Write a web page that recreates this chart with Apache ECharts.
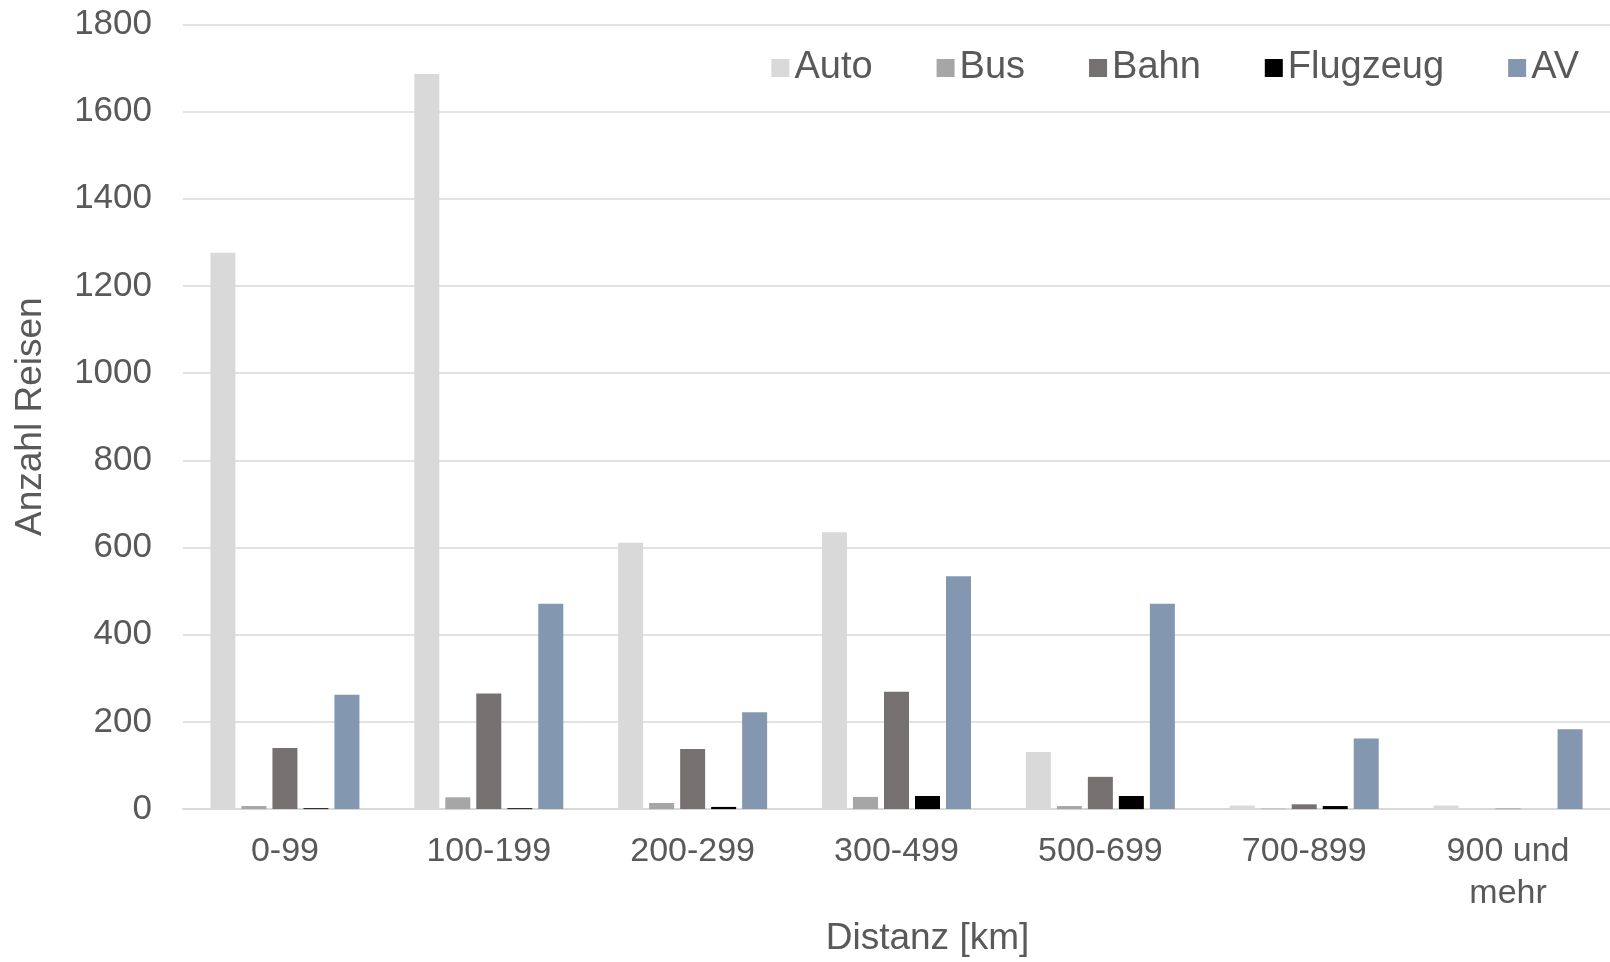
<!DOCTYPE html>
<html>
<head>
<meta charset="utf-8">
<script src="https://cdn.jsdelivr.net/npm/echarts@6/dist/echarts.min.js"></script>
<style>html,body{margin:0;padding:0;background:#fff;}#chart{width:1610px;height:962px;}</style>
</head>
<body>
<div id="chart"></div>
<script>
const categories = ["0-99", "100-199", "200-299", "300-499", "500-699", "700-899", "900 und\nmehr"];
const seriesNames = ["Auto", "Bus", "Bahn", "Flugzeug", "AV"];
const auto = [1276, 1686, 611, 635, 131, 8, 8];
const bus = [7, 27, 14, 28, 7, 1, 0];
const bahn = [140, 265, 138, 269, 74, 11, 1];
const flugzeug = [2, 2, 5, 30, 30, 7, 0];
const av = [262, 471, 222, 534, 471, 162, 183];
const yTicks = [0, 200, 400, 600, 800, 1000, 1200, 1400, 1600, 1800];
const colors = ["#d9d9d9", "#a6a6a6", "#767171", "#000000", "#8497b0"];

const values = [auto, bus, bahn, flugzeug, av];
const font = "Liberation Sans, Arial, sans-serif";
const chart = echarts.init(document.getElementById('chart'));
chart.setOption({
  animation: false,
  backgroundColor: '#ffffff',
  color: colors,
  grid: { left: 183, right: 0, top: 24.3, bottom: 148.5, containLabel: false },
  legend: {
    data: seriesNames,
    right: 26, top: 44,
    itemWidth: 18, itemHeight: 18, itemGap: 64,
    icon: 'rect',
    textStyle: { color: '#595959', fontSize: 38, fontFamily: font }
  },
  xAxis: {
    type: 'category',
    data: categories,
    axisLine: { lineStyle: { color: '#d9d9d9', width: 2 } },
    axisTick: { show: false },
    axisLabel: { color: '#595959', fontSize: 34, fontFamily: font, margin: 22, lineHeight: 42, interval: 0 },
    name: 'Distanz [km]',
    nameLocation: 'middle',
    nameGap: 108,
    nameTextStyle: { color: '#595959', fontSize: 37, fontFamily: font, padding: [0, 0, 0, 62] }
  },
  yAxis: {
    type: 'value',
    min: yTicks[0], max: yTicks[yTicks.length - 1], interval: yTicks[1] - yTicks[0],
    axisLine: { show: false },
    axisTick: { show: false },
    splitLine: { lineStyle: { color: '#d9d9d9', width: 1.5 } },
    axisLabel: { color: '#595959', fontSize: 35, fontFamily: font, margin: 31, formatter: v => String(v) },
    name: 'Anzahl Reisen',
    nameLocation: 'middle',
    nameGap: 134,
    nameTextStyle: { color: '#595959', fontSize: 37, fontFamily: font }
  },
  series: seriesNames.map((n, i) => ({
    name: n,
    type: 'bar',
    data: values[i],
    barWidth: 25,
    barGap: '24%',
    itemStyle: { color: colors[i] }
  }))
});
</script>
</body>
</html>
